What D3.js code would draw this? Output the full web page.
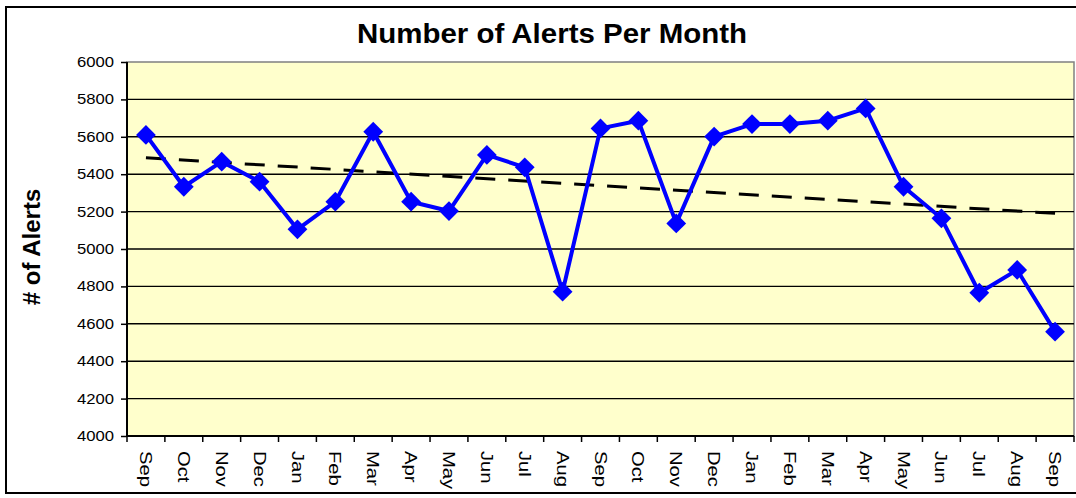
<!DOCTYPE html>
<html><head><meta charset="utf-8">
<script src="https://cdn.jsdelivr.net/npm/d3@7/dist/d3.min.js"></script>
<style>body{margin:0;background:#fff}svg{display:block;font-family:"Liberation Sans",Arial,sans-serif}</style>
</head><body><svg id="c" width="1076" height="498"></svg>
<script>
const months = ["Sep","Oct","Nov","Dec","Jan","Feb","Mar","Apr","May","Jun","Jul","Aug","Sep","Oct","Nov","Dec","Jan","Feb","Mar","Apr","May","Jun","Jul","Aug","Sep"];
const alerts = [5610,5333,5467,5360,5105,5253,5627,5253,5203,5503,5437,4772,5645,5686,5137,5601,5668,5668,5686,5752,5333,5164,4766,4888,4558];
const yTicks = [4000,4200,4400,4600,4800,5000,5200,5400,5600,5800,6000];
const titleText = "Number of Alerts Per Month";
const yTitle = "# of Alerts";

const svg = d3.select("#c");
const L = 127, R = 1074, T = 62, B = 436;
const ids = months.map((m,i)=>i);
const x = d3.scaleBand().domain(ids).range([L,R]);
const y = d3.scaleLinear().domain([4000,6000]).range([B,T]);
const stretch = sel => sel.each(function(){
  const w = this.getComputedTextLength();
  d3.select(this).attr("textLength", w*1.19).attr("lengthAdjust","spacingAndGlyphs");
});

// outer frame
svg.append("rect").attr("x",6).attr("y",7).attr("width",1100).attr("height",486)
  .attr("fill","#fff").attr("stroke","#000").attr("stroke-width",2);

// plot background
svg.append("rect").attr("x",L).attr("y",T).attr("width",R-L).attr("height",B-T)
  .attr("fill","#FFFFCC").attr("stroke","#808080").attr("stroke-width",1.5);

// gridlines
svg.append("g").selectAll("line").data(yTicks.filter(v=>v>4000&&v<6000)).join("line")
  .attr("x1",L).attr("x2",R).attr("y1",d=>y(d)).attr("y2",d=>y(d))
  .attr("stroke","#000").attr("stroke-width",1.4);

// y axis
const ya = svg.append("g").attr("transform",`translate(${L},0)`)
  .call(d3.axisLeft(y).tickValues(yTicks).tickSize(6).tickPadding(7).tickFormat(d3.format("d")));
ya.select(".domain").attr("stroke","#000").attr("stroke-width",2).attr("d",`M0,${T}V${B}`);
ya.selectAll(".tick line").attr("stroke","#000").attr("stroke-width",1.5);
ya.selectAll("text").attr("font-size",14).attr("fill","#000").attr("font-family","Liberation Sans, Arial, sans-serif").call(stretch);

// x axis
const xa = svg.append("g").attr("transform",`translate(0,${B})`)
  .call(d3.axisBottom(x).tickSize(0).tickFormat(i=>months[i]));
xa.select(".domain").attr("stroke","#000").attr("stroke-width",2).attr("d",`M${L},0H${R}`);
xa.selectAll("text").attr("font-size",17).attr("fill","#000")
  .attr("font-family","Liberation Sans, Arial, sans-serif")
  .attr("transform","rotate(90)").attr("text-anchor","start")
  .attr("x",15).attr("y",0).attr("dy","0.35em").call(stretch);
// boundary ticks
svg.append("g").selectAll("line").data(d3.range(months.length+1)).join("line")
  .attr("x1",i=>L+i*x.step()).attr("x2",i=>L+i*x.step())
  .attr("y1",B).attr("y2",B+6).attr("stroke","#000").attr("stroke-width",1.5);

// trend line (least squares)
const n = alerts.length;
const mx = d3.mean(ids), my = d3.mean(alerts);
const slope = d3.sum(ids,i=>(i-mx)*(alerts[i]-my))/d3.sum(ids,i=>(i-mx)*(i-mx));
const icpt = my - slope*mx;
const cx = i => x(i)+x.bandwidth()/2;
svg.append("line").attr("x1",cx(0)).attr("x2",cx(n-1))
  .attr("y1",y(icpt)).attr("y2",y(icpt+slope*(n-1)))
  .attr("stroke","#000").attr("stroke-width",3).attr("stroke-dasharray","20,13");

// series line
svg.append("path").datum(ids)
  .attr("d",d3.line().x(cx).y(i=>y(alerts[i])))
  .attr("fill","none").attr("stroke","#0000FF").attr("stroke-width",4).attr("stroke-linejoin","round");

// markers
const sym = d3.symbol().type(d3.symbolDiamond2).size(250);
svg.append("g").selectAll("path").data(ids).join("path")
  .attr("d",sym).attr("transform",i=>`translate(${cx(i)},${y(alerts[i])})`)
  .attr("fill","#0000FF");

// titles
svg.append("text").attr("x",552).attr("y",43).attr("text-anchor","middle")
  .attr("font-size",28).attr("font-weight","bold")
  .attr("textLength",390).attr("lengthAdjust","spacingAndGlyphs").text(titleText);
svg.append("text").attr("transform","translate(40,247) rotate(-90)").attr("text-anchor","middle")
  .attr("font-size",24).attr("font-weight","bold").text(yTitle);
</script></body></html>
